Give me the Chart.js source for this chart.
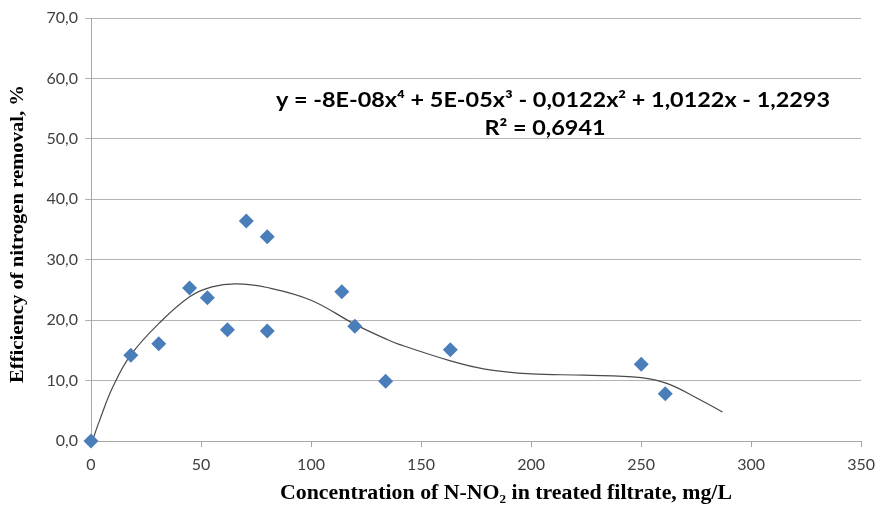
<!DOCTYPE html>
<html>
<head>
<meta charset="utf-8">
<script src="https://cdn.jsdelivr.net/npm/chart.js@4"></script>
<style>
html,body{margin:0;padding:0;background:#fff;}
#wrap{width:883px;height:506px;}
</style>
</head>
<body>
<div id="wrap"><canvas id="c" width="883" height="506"></canvas></div>
<script>
// Measured points
const concentration = [0, 18.1, 30.8, 44.8, 52.9, 62.0, 70.6, 80.1, 80.1, 114.0, 119.9, 133.9, 163.3, 250.1, 261.0];
const efficiency    = [0, 14.2, 16.1, 25.3, 23.7, 18.4, 36.4, 33.8, 18.2, 24.7, 19.0, 9.9, 15.1, 12.7, 7.8];

// Trendline
const trendX = [0, 4, 10, 18, 31, 45, 55, 66, 80, 100, 120, 134, 140, 163, 179, 200, 224, 250, 262, 277, 287];
const trendY = [-0.6, 3.5, 9.0, 14.2, 19.5, 23.9, 25.5, 26.0, 25.4, 23.3, 19.3, 16.9, 16.0, 13.3, 11.9, 11.1, 10.9, 10.5, 9.5, 6.8, 4.8];

const xTicks = [0, 50, 100, 150, 200, 250, 300, 350];
const yTicks = [0, 10, 20, 30, 40, 50, 60, 70];

const equationLine1 = "y = -8E-08x\u2074 + 5E-05x\u00b3 - 0,0122x\u00b2 + 1,0122x - 1,2293";
const equationLine2 = "R\u00b2 = 0,6941";
const xTitle = "Concentration of N-NO\u2082 in treated filtrate, mg/L";
const yTitle = "Efficiency of nitrogen removal, %";

const pts = concentration.map((x, i) => ({x: x, y: efficiency[i]}));
const trend = trendX.map((x, i) => ({x: x, y: trendY[i]}));

function fitText(ctx, text, cx, cy, font, targetW, angle, sx) {
  ctx.save();
  ctx.font = font;
  ctx.textAlign = 'center';
  ctx.textBaseline = 'middle';
  const w = ctx.measureText(text).width;
  const s = sx || (targetW / w);
  ctx.translate(cx, cy);
  if (angle) ctx.rotate(angle);
  ctx.scale(s, 1);
  ctx.fillText(text, 0, 0);
  ctx.restore();
  return s;
}

const textPlugin = {
  id: 'texts',
  afterDraw(chart) {
    const ctx = chart.ctx;
    ctx.save();
    ctx.fillStyle = '#000';
    const eqFont = 'bold 20px Lato, "Liberation Sans", sans-serif';
    const s = fitText(ctx, equationLine1, 553, 101, eqFont, 554);
    fitText(ctx, equationLine2, 545, 129, eqFont, 0, 0, s);
    fitText(ctx, xTitle, 506, 494, 'bold 20px "Liberation Serif", "DejaVu Serif", serif', 452);
    fitText(ctx, yTitle, 18, 234, 'bold 19px "Liberation Serif", "DejaVu Serif", serif', 298, -Math.PI / 2);
    ctx.restore();
  }
};

new Chart(document.getElementById('c'), {
  type: 'scatter',
  data: {
    datasets: [
      {
        label: 'data',
        data: pts,
        pointStyle: 'rectRot',
        pointRadius: 7.5,
        pointHoverRadius: 7.5,
        backgroundColor: '#4a7ebb',
        borderColor: '#4a7ebb',
        borderWidth: 0,
        clip: false,
        order: 0
      },
      {
        label: 'trend',
        type: 'line',
        data: trend,
        borderColor: '#4a4a4a',
        borderWidth: 1.2,
        pointRadius: 0,
        fill: false,
        tension: 0.4,
        order: 1
      }
    ]
  },
  options: {
    responsive: false,
    animation: false,
    devicePixelRatio: 1,
    layout: {padding: {top: 18, right: 18, left: 0, bottom: 0}},
    plugins: {legend: {display: false}, tooltip: {enabled: false}},
    scales: {
      x: {
        type: 'linear',
        min: 0, max: 350,
        afterBuildTicks: s => { s.ticks = xTicks.map(v => ({value: v})); },
        afterFit: s => { s.height = 65; },
        grid: {drawOnChartArea: false, drawTicks: true, tickLength: 6, color: '#a6a6a6'},
        border: {color: '#a6a6a6', width: 1},
        ticks: {padding: 8, color: '#404040', font: {family: 'Lato, "Liberation Sans", sans-serif', size: 16}, maxRotation: 0}
      },
      y: {
        min: 0, max: 70,
        afterBuildTicks: s => { s.ticks = yTicks.map(v => ({value: v})); },
        afterFit: s => { s.width = 91; },
        grid: {color: '#b3b3b3', tickLength: 6},
        border: {color: '#a6a6a6', width: 1},
        ticks: {padding: 7, color: '#404040', font: {family: 'Lato, "Liberation Sans", sans-serif', size: 16},
                callback: v => v.toFixed(1).replace('.', ',')}
      }
    }
  },
  plugins: [textPlugin]
});
</script>
</body>
</html>
